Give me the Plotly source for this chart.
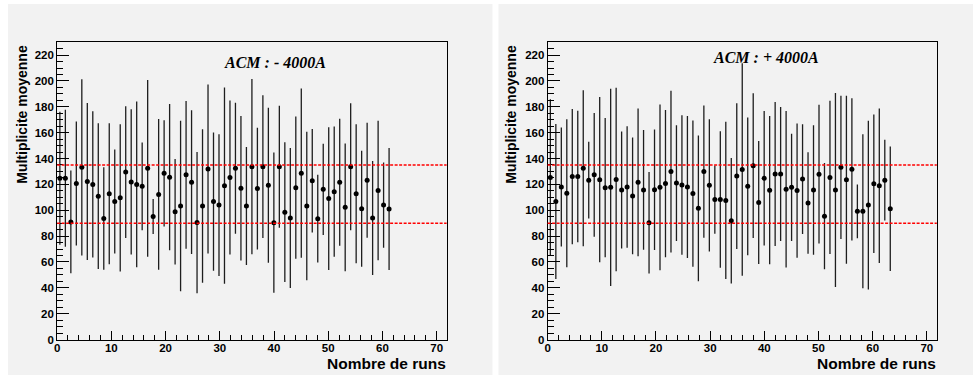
import plotly.graph_objects as go

# ---------------- data ----------------
left_mult = [124.8, 124.8, 91.0, 120.7, 133.2, 122.3, 120.0, 110.9, 93.6, 112.7,
             106.8, 109.6, 129.5, 121.9, 120.0, 118.5, 132.4, 95.2, 112.2, 128.6,
             125.6, 98.8, 103.3, 127.4, 121.7, 90.5, 103.3, 131.9, 106.7, 104.0,
             119.0, 125.3, 132.5, 117.0, 103.3, 133.7, 116.8, 133.7, 119.3, 90.4,
             133.7, 98.5, 94.0, 117.5, 128.7, 103.3, 122.8, 93.5, 116.2, 109.0,
             114.4, 121.7, 102.3, 133.6, 112.8, 101.2, 123.2, 94.0, 115.3, 104.0,
             101.0]
left_err = [51.4, 53.0, 39.8, 48.0, 68.2, 60.7, 56.5, 56.4, 39.7, 54.5,
            40.2, 57.0, 50.9, 56.2, 64.1, 33.9, 68.4, 13.6, 58.3, 41.1,
            56.6, 40.8, 65.9, 57.1, 55.6, 54.6, 59.4, 65.4, 53.5, 54.8,
            75.9, 59.5, 50.7, 55.9, 45.7, 67.8, 47.1, 55.2, 59.9, 54.2,
            47.2, 54.0, 54.1, 55.0, 65.4, 57.5, 40.0, 33.9, 35.3, 55.2,
            50.4, 49.1, 49.4, 49.1, 53.7, 44.8, 44.4, 44.0, 54.0, 33.0,
            47.2]

right_mult = [125.4, 106.8, 118.0, 113.2, 126.1, 126.1, 132.5, 123.3, 127.4, 123.6,
              117.5, 117.7, 123.8, 115.7, 118.0, 111.1, 121.6, 115.7, 90.3, 115.9,
              117.7, 120.6, 129.9, 121.0, 119.5, 118.0, 112.9, 101.5, 129.9, 119.3,
              108.3, 108.3, 107.6, 91.9, 126.4, 131.5, 118.5, 134.5, 106.0, 124.8,
              115.5, 128.0, 128.1, 116.2, 117.7, 115.2, 124.1, 105.6, 115.7, 127.9,
              95.4, 125.4, 115.7, 133.2, 123.6, 131.7, 99.2, 99.2, 104.0, 120.5,
              119.0, 123.3, 101.2]
right_err = [60.4, 59.9, 46.0, 57.2, 52.3, 50.8, 60.3, 29.6, 47.9, 63.9,
             53.8, 76.2, 70.9, 45.2, 47.0, 45.2, 57.1, 46.3, 39.2, 46.6,
             64.1, 57.0, 62.6, 44.7, 53.9, 54.9, 56.5, 56.4, 51.2, 51.1,
             26.4, 52.8, 60.8, 48.5, 56.3, 82.2, 53.2, 56.0, 47.5, 52.0,
             57.3, 55.7, 51.8, 60.5, 41.4, 51.9, 42.4, 39.3, 50.1, 53.6,
             41.1, 59.3, 75.0, 55.4, 65.0, 55.0, 20.8, 59.6, 65.3, 53.5,
             59.7, 31.2, 48.2]

ref_lines = [135, 90]
x_ticks = [0, 10, 20, 30, 40, 50, 60, 70]
y_ticks = [0, 20, 40, 60, 80, 100, 120, 140, 160, 180, 200, 220]
titles = ["ACM : - 4000A", "ACM : + 4000A"]
x_title = "Nombre de runs"
y_title = "Multiplicite moyenne"

BIN_W = 1.012
left_runs = [(i + 0.5) * BIN_W for i in range(len(left_mult))]
right_runs = [(i + 0.5) * BIN_W for i in range(len(right_mult))]

# ---------------- layout helpers ----------------
W, H = 973, 381
def fx(px):
    return px / W
def fy(py):
    return 1 - py / H

BG = "#f2f2f2"
SANS = "Liberation Sans, Arial, sans-serif"
SERIF = "Liberation Serif, Times New Roman, serif"

fig = go.Figure()

for runs, mult, err, xa, ya in [(left_runs, left_mult, left_err, "x", "y"),
                                (right_runs, right_mult, right_err, "x2", "y2")]:
    fig.add_trace(go.Scatter(
        x=runs, y=mult, mode="markers",
        marker=dict(color="black", size=5, symbol="circle", line=dict(width=0)),
        error_y=dict(type="data", array=err, visible=True, width=0,
                     thickness=1.3, color="#1e1e1e"),
        xaxis=xa, yaxis=ya, showlegend=False, hoverinfo="skip"))

axis_common = dict(showgrid=False, zeroline=False, showline=True, mirror=True,
                   linecolor="black", linewidth=1, ticks="inside",
                   tickcolor="black", tickwidth=1,
                   tickfont=dict(family=SANS, size=11.5, color="black", weight="bold"))

xr = [0, 71.84]
yr = [0, 230.1]
dom_y = [fy(345), fy(42.7)]

xminor = dict(dtick=2, ticks="inside", ticklen=4.5, tickcolor="black", tickwidth=1)
yminor = dict(dtick=5, ticks="inside", ticklen=6, tickcolor="black", tickwidth=1)

fig.update_layout(
    width=W, height=H, autosize=False,
    margin=dict(l=0, r=0, t=0, b=0),
    paper_bgcolor="white", plot_bgcolor=BG,
    xaxis=dict(domain=[fx(54.3), fx(445.0)], range=xr, anchor="y",
               tickvals=x_ticks, ticklen=9, ticklabelstandoff=-2, minor=xminor,
               **axis_common),
    yaxis=dict(domain=dom_y, range=yr, anchor="x",
               tickvals=y_ticks, ticklen=12, minor=yminor,
               **axis_common),
    xaxis2=dict(domain=[fx(546.3), fx(936.7)], range=xr, anchor="y2",
                tickvals=x_ticks, ticklen=9, ticklabelstandoff=-2, minor=xminor,
                **axis_common),
    yaxis2=dict(domain=dom_y, range=yr, anchor="x2",
                tickvals=y_ticks, ticklen=12, minor=yminor,
                **axis_common),
)

shapes = [
    dict(type="rect", xref="paper", yref="paper", x0=fx(5), x1=fx(491), y0=fy(381), y1=fy(4),
         fillcolor=BG, line=dict(width=0), layer="below"),
    dict(type="rect", xref="paper", yref="paper", x0=fx(497), x1=fx(973), y0=fy(381), y1=fy(4),
         fillcolor=BG, line=dict(width=0), layer="below"),
]
for xa, ya in [("x", "y"), ("x2", "y2")]:
    for v in ref_lines:
        shapes.append(dict(type="line", xref=f"{xa} domain", yref=ya, x0=0, x1=1, y0=v, y1=v,
                           line=dict(color="#ff0000", width=1.6, dash="3px,1.5px"), layer="above"))
fig.update_layout(shapes=shapes)

ann = []
for title, cx, cy, xl, xr_px in [(titles[0], 272.7, 64, 19, 445.0),
                                 (titles[1], 765.7, 58, 509.5, 936.7)]:
    ann.append(dict(text=f"<b><i>{title}</i></b>", xref="paper", yref="paper",
                    x=fx(cx), y=fy(cy), xanchor="center", yanchor="middle", showarrow=False,
                    font=dict(family=SERIF, size=16, color="black")))
    ann.append(dict(text=f"<b>{y_title}</b>", xref="paper", yref="paper",
                    x=fx(xl), y=fy(43), xanchor="center", yanchor="top", textangle=-90,
                    showarrow=False, font=dict(family=SANS, size=14, color="black")))
    ann.append(dict(text=f"<b>{x_title}</b>", xref="paper", yref="paper",
                    x=fx(xr_px), y=fy(369), xanchor="right", yanchor="middle",
                    showarrow=False, borderpad=0,
                    font=dict(family=SANS, size=15.5, color="black")))
fig.update_layout(annotations=ann)

fig.write_html("out.html", config={"displayModeBar": False},
               post_script="document.body.style.margin='0';")
